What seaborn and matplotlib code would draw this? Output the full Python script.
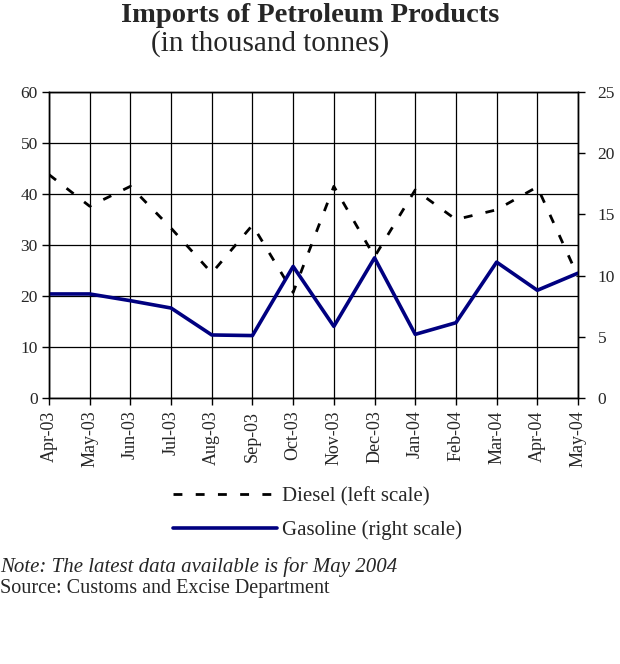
import numpy as np
import pandas as pd
import matplotlib
matplotlib.use("Agg")
import matplotlib.pyplot as plt
import seaborn as sns

months = ["Apr-03", "May-03", "Jun-03", "Jul-03", "Aug-03", "Sep-03", "Oct-03",
          "Nov-03", "Dec-03", "Jan-04", "Feb-04", "Mar-04", "Apr-04", "May-04"]
diesel = [43.8, 37.6, 41.5, 33.3, 24.5, 33.9, 20.7,
          41.5, 27.7, 40.8, 35.0, 36.9, 41.4, 23.8]
gasoline = [8.5, 8.5, 7.95, 7.35, 5.15, 5.1, 10.75,
            5.85, 11.45, 5.2, 6.15, 11.1, 8.8, 10.2]
left_ticks = [0, 10, 20, 30, 40, 50, 60]
right_ticks = [0, 5, 10, 15, 20, 25]

df = pd.DataFrame({"month": months, "diesel": diesel, "gasoline": gasoline})

sns.set_style("white")
plt.rcParams["font.family"] = ["Liberation Serif", "DejaVu Serif"]

fig = plt.figure(figsize=(6.2, 6.64), dpi=100)
ax = fig.add_axes([49 / 620, 1 - 398 / 664, 529 / 620, 306 / 664])
ax2 = ax.twinx()

# diesel on left scale, dashed black
sns.lineplot(data=df, x="month", y="diesel", ax=ax, color="black", lw=2.0,
             sort=False, label="Diesel (left scale)", legend=False)
ax.lines[0].set_dashes((3.2, 4.8))
# gasoline on right scale, navy
sns.lineplot(data=df, x="month", y="gasoline", ax=ax2, color="#000080", lw=2.6,
             sort=False, label="Gasoline (right scale)", legend=False)

ax.set_xlim(0, len(months) - 1)
ax.set_ylim(0, 60)
ax2.set_ylim(0, 25)
ax.set_yticks(left_ticks)
ax2.set_yticks(right_ticks)
ax.set_xticks(range(len(months)))
ax.set_xticklabels(months, rotation=90, fontsize=13)
ax.tick_params(axis="y", labelsize=12.5, length=5, width=1, color="black", pad=3, direction="out", left=True)
ax.tick_params(axis="x", length=5, width=1, color="black", pad=4, direction="out", bottom=True)
ax2.tick_params(axis="y", labelsize=12.5, length=5, width=1, color="black", pad=9, direction="out", right=True)
ax.set_xlabel("")
ax.set_ylabel("")
ax2.set_ylabel("")

ax.grid(True, color="black", lw=0.9)
ax2.grid(False)
for a in (ax, ax2):
    for s in a.spines.values():
        s.set_color("black")
        s.set_linewidth(1)

fig.text(310 / 620, 1 - 15 / 664, "Imports of Petroleum Products", ha="center", va="center",
         fontsize=20.5, fontweight="bold")
fig.text(270 / 620, 1 - 44 / 664, "(in thousand tonnes)", ha="center", va="center", fontsize=21)

handles = [ax.lines[0], ax2.lines[0]]
fig.legend(handles, ["Diesel (left scale)", "Gasoline (right scale)"],
           loc="upper left", bbox_to_anchor=(173 / 620, 1 - 487 / 664),
           frameon=False, fontsize=15, handlelength=5.0, handletextpad=0.25,
           labelspacing=0.65, borderpad=0, borderaxespad=0)

fig.text(0, 1 - 567 / 664, "Note: The latest data available is for May 2004", ha="left", va="center",
         fontsize=15, style="italic")
fig.text(0, 1 - 589 / 664, "Source: Customs and Excise Department", ha="left", va="center", fontsize=14.5)

fig.savefig("out.png", dpi=100)
